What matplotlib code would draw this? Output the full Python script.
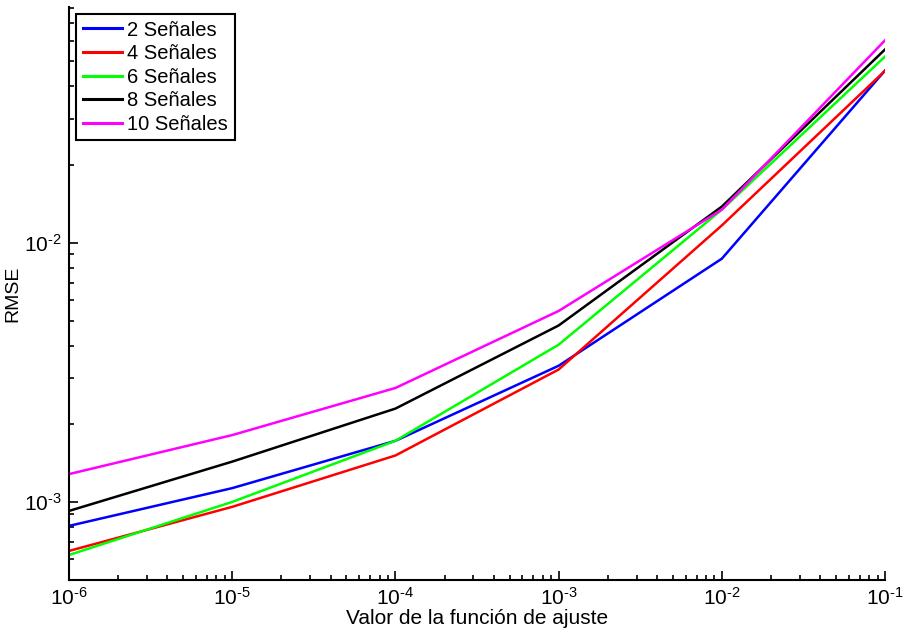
import matplotlib
matplotlib.use("Agg")
import matplotlib.pyplot as plt
from matplotlib.ticker import LogLocator, NullFormatter, FuncFormatter
import numpy as np

plt.rcParams['font.family'] = ['Liberation Sans', 'DejaVu Sans']
plt.rcParams['mathtext.fontset'] = 'custom'
plt.rcParams['mathtext.rm'] = 'Liberation Sans'

x = [1e-6, 1e-5, 1e-4, 1e-3, 1e-2, 1e-1]
s2 = [8.08e-4, 1.13e-3, 1.72e-3, 3.35e-3, 8.67e-3, 0.0461]
s4 = [6.47e-4, 9.57e-4, 1.51e-3, 3.24e-3, 0.01165, 0.0460]
s6 = [6.24e-4, 1.00e-3, 1.72e-3, 4.04e-3, 0.0134, 0.0522]
s8 = [9.23e-4, 1.43e-3, 2.29e-3, 4.79e-3, 0.01377, 0.0556]
s10 = [1.28e-3, 1.81e-3, 2.75e-3, 5.45e-3, 0.0134, 0.0603]
labels = ['2 Señales', '4 Señales', '6 Señales', '8 Señales', '10 Señales']
colors = ['#0000ff', '#ff0000', '#00ff00', '#000000', '#ff00ff']

fig = plt.figure(figsize=(9.06, 6.38), dpi=100)
ax = fig.add_axes([0.0762, 0.091, 0.9007, 0.898])

for ys, lab, c in zip([s2, s4, s6, s8, s10], labels, colors):
    ax.plot(x, ys, color=c, lw=1.8, label=lab)

ax.set_xscale('log')
ax.set_yscale('log')
ax.set_xlim(1e-6, 1e-1)
ax.set_ylim(5e-4, 0.081)

for side in ['top', 'right']:
    ax.spines[side].set_visible(False)
for side in ['left', 'bottom']:
    ax.spines[side].set_linewidth(1.5)

def fmt(v, pos):
    e = int(round(np.log10(v)))
    return r'$\mathregular{10^{\text{-}%d}}$' % (-e)

ax.xaxis.set_major_locator(LogLocator(base=10, numticks=20))
ax.xaxis.set_minor_locator(LogLocator(base=10, subs=range(2, 10), numticks=20))
ax.yaxis.set_minor_locator(LogLocator(base=10, subs=range(2, 10), numticks=20))
ax.xaxis.set_major_formatter(FuncFormatter(fmt))
ax.yaxis.set_major_formatter(FuncFormatter(fmt))
ax.yaxis.set_minor_formatter(NullFormatter())
ax.xaxis.set_minor_formatter(NullFormatter())

ax.tick_params(which='major', direction='in', length=6.5, width=1.2, labelsize=15, pad=5)
ax.tick_params(which='minor', direction='in', length=3.5, width=1.2)

ax.set_xlabel('Valor de la función de ajuste', fontsize=15, labelpad=0)
ax.set_ylabel('RMSE', fontsize=14, labelpad=2)

leg = ax.legend(loc='upper left', fontsize=14.5, frameon=True, fancybox=False,
                handlelength=1.95, handletextpad=0.28, borderpad=0.32,
                labelspacing=0.23, borderaxespad=0.35)
leg.get_frame().set_edgecolor('black')
leg.get_frame().set_linewidth(1.5)
leg.get_frame().set_alpha(1)
for l in leg.get_lines():
    l.set_linewidth(2.2)

fig.savefig('out.png', dpi=100)
